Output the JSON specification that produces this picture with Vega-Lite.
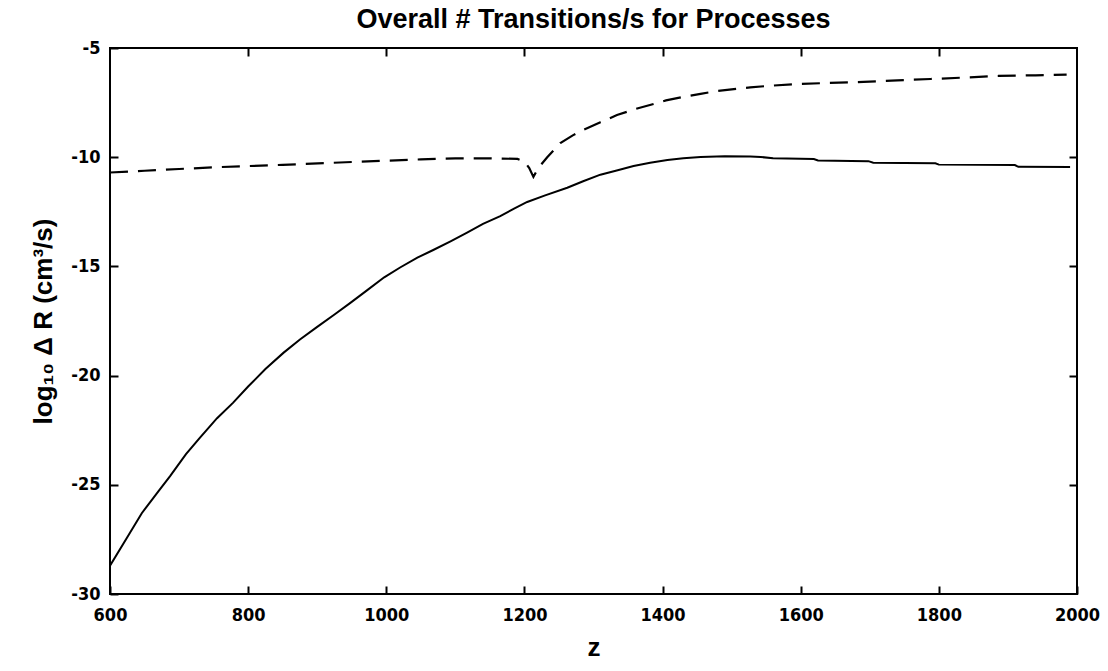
{
  "$schema": "https://vega.github.io/schema/vega-lite/v6.json",
  "autosize": "none",
  "width": 967,
  "height": 546,
  "padding": {"left": 110, "top": 48, "right": 31, "bottom": 77},
  "background": "white",
  "config": {
    "view": {"stroke": "black", "strokeWidth": 2},
    "axis": {
      "grid": false,
      "domain": false,
      "offset": -8,
      "tickColor": "black",
      "tickWidth": 2,
      "tickSize": 8,
      "labelColor": "black",
      "labelFont": "DejaVu Sans Condensed",
      "labelFontWeight": "bold",
      "labelFontSize": 18,
      "titleFont": "Liberation Sans",
      "titleFontWeight": "bold",
      "titleColor": "black"
    }
  },
  "title": {
    "text": "Overall # Transitions/s for Processes",
    "font": "Liberation Sans",
    "fontWeight": "bold",
    "fontSize": 27,
    "color": "black",
    "anchor": "middle",
    "offset": 5
  },
  "datasets": {
    "curves": [
      {"series": "solid", "z": 600, "v": -28.7},
      {"series": "solid", "z": 625, "v": -27.4},
      {"series": "solid", "z": 646, "v": -26.3},
      {"series": "solid", "z": 670, "v": -25.3},
      {"series": "solid", "z": 687, "v": -24.6},
      {"series": "solid", "z": 710, "v": -23.6},
      {"series": "solid", "z": 730, "v": -22.85},
      {"series": "solid", "z": 755, "v": -21.95},
      {"series": "solid", "z": 778, "v": -21.25},
      {"series": "solid", "z": 800, "v": -20.5},
      {"series": "solid", "z": 825, "v": -19.7},
      {"series": "solid", "z": 851, "v": -18.96},
      {"series": "solid", "z": 875, "v": -18.35},
      {"series": "solid", "z": 900, "v": -17.77},
      {"series": "solid", "z": 925, "v": -17.2},
      {"series": "solid", "z": 948, "v": -16.67},
      {"series": "solid", "z": 972, "v": -16.1},
      {"series": "solid", "z": 997, "v": -15.5},
      {"series": "solid", "z": 1020, "v": -15.05},
      {"series": "solid", "z": 1045, "v": -14.6},
      {"series": "solid", "z": 1068, "v": -14.25},
      {"series": "solid", "z": 1093, "v": -13.85},
      {"series": "solid", "z": 1117, "v": -13.45},
      {"series": "solid", "z": 1140, "v": -13.05},
      {"series": "solid", "z": 1165, "v": -12.7},
      {"series": "solid", "z": 1185, "v": -12.35},
      {"series": "solid", "z": 1204, "v": -12.05},
      {"series": "solid", "z": 1230, "v": -11.75},
      {"series": "solid", "z": 1262, "v": -11.4},
      {"series": "solid", "z": 1285, "v": -11.1},
      {"series": "solid", "z": 1310, "v": -10.8},
      {"series": "solid", "z": 1335, "v": -10.6},
      {"series": "solid", "z": 1358, "v": -10.4},
      {"series": "solid", "z": 1382, "v": -10.25},
      {"series": "solid", "z": 1407, "v": -10.13},
      {"series": "solid", "z": 1430, "v": -10.05},
      {"series": "solid", "z": 1455, "v": -9.99},
      {"series": "solid", "z": 1490, "v": -9.96},
      {"series": "solid", "z": 1527, "v": -9.97},
      {"series": "solid", "z": 1542, "v": -9.99},
      {"series": "solid", "z": 1560, "v": -10.05},
      {"series": "solid", "z": 1619, "v": -10.08},
      {"series": "solid", "z": 1625, "v": -10.15},
      {"series": "solid", "z": 1698, "v": -10.18},
      {"series": "solid", "z": 1705, "v": -10.25},
      {"series": "solid", "z": 1795, "v": -10.28},
      {"series": "solid", "z": 1800, "v": -10.34},
      {"series": "solid", "z": 1910, "v": -10.36},
      {"series": "solid", "z": 1915, "v": -10.44},
      {"series": "solid", "z": 1990, "v": -10.45},
      {"series": "dashed", "z": 600, "v": -10.7},
      {"series": "dashed", "z": 650, "v": -10.62},
      {"series": "dashed", "z": 700, "v": -10.54},
      {"series": "dashed", "z": 760, "v": -10.45},
      {"series": "dashed", "z": 850, "v": -10.35},
      {"series": "dashed", "z": 950, "v": -10.22},
      {"series": "dashed", "z": 1050, "v": -10.1},
      {"series": "dashed", "z": 1100, "v": -10.05},
      {"series": "dashed", "z": 1150, "v": -10.05},
      {"series": "dashed", "z": 1190, "v": -10.08},
      {"series": "dashed", "z": 1200, "v": -10.2},
      {"series": "dashed", "z": 1207, "v": -10.5},
      {"series": "dashed", "z": 1213, "v": -10.9},
      {"series": "dashed", "z": 1220, "v": -10.5},
      {"series": "dashed", "z": 1233, "v": -10.0},
      {"series": "dashed", "z": 1252, "v": -9.35},
      {"series": "dashed", "z": 1270, "v": -9.0},
      {"series": "dashed", "z": 1285, "v": -8.75},
      {"series": "dashed", "z": 1310, "v": -8.4},
      {"series": "dashed", "z": 1334, "v": -8.07},
      {"series": "dashed", "z": 1360, "v": -7.8},
      {"series": "dashed", "z": 1383, "v": -7.6},
      {"series": "dashed", "z": 1405, "v": -7.4},
      {"series": "dashed", "z": 1430, "v": -7.24},
      {"series": "dashed", "z": 1455, "v": -7.1},
      {"series": "dashed", "z": 1479, "v": -6.97},
      {"series": "dashed", "z": 1527, "v": -6.8},
      {"series": "dashed", "z": 1560, "v": -6.72},
      {"series": "dashed", "z": 1596, "v": -6.65},
      {"series": "dashed", "z": 1640, "v": -6.6},
      {"series": "dashed", "z": 1691, "v": -6.55},
      {"series": "dashed", "z": 1740, "v": -6.48},
      {"series": "dashed", "z": 1788, "v": -6.42},
      {"series": "dashed", "z": 1840, "v": -6.35},
      {"series": "dashed", "z": 1886, "v": -6.28},
      {"series": "dashed", "z": 1940, "v": -6.25},
      {"series": "dashed", "z": 1985, "v": -6.22}
    ]
  },
  "data": {"name": "curves"},
  "layer": [
    {
      "transform": [{"filter": "datum.series === 'solid'"}],
      "mark": {"type": "line", "color": "black", "strokeWidth": 2, "clip": true},
      "encoding": {
        "x": {
          "field": "z", "type": "quantitative",
          "scale": {"domain": [600, 2000], "nice": false, "zero": false},
          "axis": {"orient": "bottom", "values": [600, 800, 1000, 1200, 1400, 1600, 1800, 2000], "labelExpr": "'' + datum.value", "labelPadding": 12, "title": "z", "titleFontSize": 26, "titlePadding": 10, "labelFlush": false}
        },
        "y": {
          "field": "v", "type": "quantitative",
          "scale": {"domain": [-30, -5], "nice": false, "zero": false},
          "axis": {"orient": "left", "values": [-30, -25, -20, -15, -10, -5], "labelExpr": "'' + datum.value", "labelPadding": 10, "title": "log₁₀ Δ R (cm³/s)", "titleFontSize": 26, "titlePadding": 14}
        }
      }
    },
    {
      "transform": [{"filter": "datum.series === 'dashed'"}],
      "mark": {"type": "line", "color": "black", "strokeWidth": 2.2, "strokeDash": [18, 10], "clip": true},
      "encoding": {
        "x": {
          "field": "z", "type": "quantitative",
          "scale": {"domain": [600, 2000], "nice": false, "zero": false},
          "axis": {"orient": "top", "values": [800, 1000, 1200, 1400, 1600, 1800], "labels": false, "title": null}
        },
        "y": {
          "field": "v", "type": "quantitative",
          "scale": {"domain": [-30, -5], "nice": false, "zero": false},
          "axis": {"orient": "right", "values": [-25, -20, -15, -10], "labels": false, "title": null}
        }
      }
    }
  ],
  "resolve": {"scale": {"x": "independent", "y": "independent"}, "axis": {"x": "independent", "y": "independent"}}
}
